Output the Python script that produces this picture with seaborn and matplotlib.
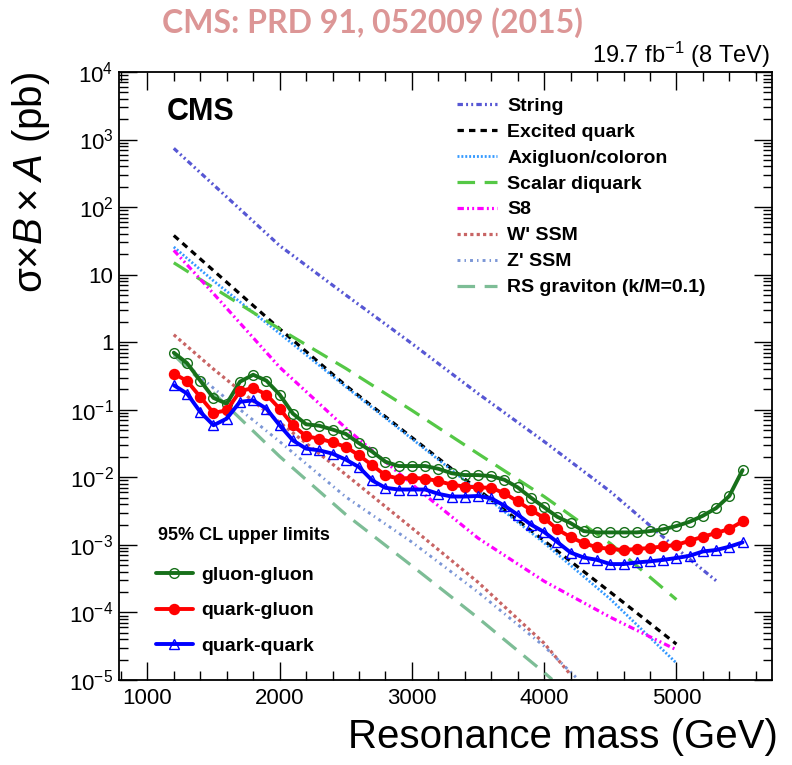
import numpy as np
import pandas as pd
import matplotlib
matplotlib.use("Agg")
import matplotlib.pyplot as plt
import seaborn as sns
from matplotlib.ticker import MultipleLocator, LogLocator, FuncFormatter, NullFormatter
from matplotlib.font_manager import FontProperties

sns.set_style("ticks")
plt.rcParams["font.family"] = ["Liberation Sans", "DejaVu Sans"]
plt.rcParams["mathtext.fontset"] = "custom"
plt.rcParams["mathtext.rm"] = "Liberation Sans"
plt.rcParams["mathtext.it"] = "Liberation Sans:italic"
plt.rcParams["mathtext.bf"] = "Liberation Sans:bold"
plt.rcParams["text.color"] = "black"
plt.rcParams["axes.labelcolor"] = "black"
plt.rcParams["xtick.color"] = "black"
plt.rcParams["ytick.color"] = "black"

# ---------------- data ----------------
# theory cross sections (pb)
string_mass = [1200, 1500, 2000, 2500, 3000, 3500, 4000, 4500, 5000, 5300]
string_xs = [741, 214, 26.9, 5.0, 0.955, 0.174, 0.0339, 0.00617, 0.00089, 0.000295]

qstar_mass = [1200, 1500, 2000, 2500, 3000, 3500, 4000, 4500, 5000]
qstar_xs = [38, 11.5, 1.58, 0.229, 0.0389, 0.0066, 0.00115, 2.0e-4, 3.4e-5]

axi_mass = [1200, 1500, 2000, 2500, 3000, 3500, 4000, 4500, 5000]
axi_xs = [25.7, 8.1, 1.35, 0.219, 0.0372, 0.0063, 0.00107, 1.58e-4, 1.78e-5]

diq_mass = [1200, 1500, 2000, 2500, 3000, 3500, 4000, 4500, 5000]
diq_xs = [15.0, 6.4, 1.57, 0.41, 0.098, 0.0224, 0.0052, 0.00105, 1.55e-4]

s8_mass = [1200, 1500, 2000, 2500, 3000, 3500, 4000, 4500, 5000]
s8_xs = [22.9, 5.25, 0.427, 0.0537, 0.0079, 0.00126, 2.9e-4, 8.5e-5, 2.8e-5]

wp_mass = [1200, 1500, 2000, 2500, 3000, 3500, 4000, 4200]
wp_xs = [1.29, 0.40, 0.065, 0.011, 0.00178, 2.8e-4, 3.5e-5, 1.2e-5]

zp_mass = [1200, 1500, 2000, 2500, 3000, 3500, 4000, 4240]
zp_xs = [0.676, 0.209, 0.0339, 0.00513, 0.0011, 2.0e-4, 3.16e-5, 1.1e-5]

rsg_mass = [1200, 1500, 2000, 2500, 3000, 3500, 4000, 4060]
rsg_xs = [0.646, 0.178, 0.0204, 0.00282, 4.9e-4, 8.3e-5, 1.29e-5, 1.02e-5]

# 95% CL upper limits (pb), masses 1200..5500 GeV in 100 GeV steps
limit_mass = list(range(1200, 5600, 100))
gg_limit = [0.70, 0.49, 0.27, 0.150, 0.123, 0.26, 0.33, 0.27, 0.168, 0.088,
            0.061, 0.058, 0.051, 0.044, 0.032, 0.024, 0.017, 0.0147, 0.0147, 0.0147,
            0.0134, 0.0115, 0.0108, 0.0108, 0.0104, 0.0092, 0.0071, 0.0050, 0.0036, 0.0026,
            0.0021, 0.0016, 0.00153, 0.00153, 0.00153, 0.00153, 0.0016, 0.0017, 0.0019, 0.0022,
            0.0027, 0.0035, 0.0053, 0.0128]
qg_limit = [0.343, 0.267, 0.155, 0.090, 0.098, 0.188, 0.211, 0.168, 0.104, 0.059,
            0.0405, 0.0374, 0.0330, 0.0282, 0.0212, 0.0151, 0.0107, 0.0096, 0.0098, 0.0096,
            0.0088, 0.0078, 0.0073, 0.0071, 0.0070, 0.0058, 0.0044, 0.0033, 0.0025, 0.0017,
            0.0013, 0.00106, 0.00092, 0.00087, 0.00084, 0.00087, 0.00090, 0.00095, 0.0010, 0.00115,
            0.00132, 0.0015, 0.00172, 0.00223]
qq_limit = [0.231, 0.174, 0.093, 0.059, 0.074, 0.131, 0.138, 0.104, 0.059, 0.0353,
            0.0266, 0.0251, 0.0224, 0.0183, 0.0142, 0.0090, 0.0070, 0.0066, 0.0066, 0.0066,
            0.0057, 0.0052, 0.0052, 0.0053, 0.0049, 0.0038, 0.0028, 0.0020, 0.00155, 0.00110,
            0.00077, 0.00065, 0.00060, 0.00052, 0.00052, 0.00055, 0.00057, 0.00060, 0.00064, 0.00069,
            0.00080, 0.00084, 0.00094, 0.00109]

theory_names = ["String", "Excited quark", "Axigluon/coloron", "Scalar diquark",
                "S8", "W' SSM", "Z' SSM", "RS graviton (k/M=0.1)"]
limit_names = ["gluon-gluon", "quark-gluon", "quark-quark"]

# ---------------- figure ----------------
fig = plt.figure(figsize=(7.92, 7.65), dpi=100)
ax = fig.add_axes([0.1503, 0.1111, 0.8245, 0.7948])

theory = [
    (string_mass, string_xs, "#5757d4", (1.7, 1.0, 0.6, 1.0, 0.6, 1.0), 2.3),
    (qstar_mass, qstar_xs, "#000000", (2.0, 1.6), 2.3),
    (axi_mass, axi_xs, "#3399ff", (0.7, 0.7), 2.0),
    (diq_mass, diq_xs, "#55c846", (5.5, 3.0), 2.3),
    (s8_mass, s8_xs, "#ff00ff", (2.0, 1.0, 0.6, 1.0, 0.6, 1.0), 2.3),
    (wp_mass, wp_xs, "#c86464", (1.0, 1.0), 2.3),
    (zp_mass, zp_xs, "#7b96d6", (1.0, 1.4, 0.5, 1.4), 2.1),
    (rsg_mass, rsg_xs, "#7dbd96", (5.5, 3.0), 2.3),
]

theory_handles = []
for m, v, c, d, lw in theory:
    df = pd.DataFrame({"mass": m, "xs": v})
    sns.lineplot(data=df, x="mass", y="xs", ax=ax, color=c, linewidth=lw,
                 linestyle=(0, d), estimator=None, sort=False, legend=False)
    theory_handles.append(ax.lines[-1])

limits = [
    (gg_limit, "#17701a", "o", "none", 7.0),
    (qg_limit, "#ff0000", "o", "#ff0000", 7.2),
    (qq_limit, "#0000ff", "^", "none", 7.5),
]
limit_handles = []
for v, c, mk, fc, ms in limits:
    df = pd.DataFrame({"mass": limit_mass, "xs": v})
    sns.lineplot(data=df, x="mass", y="xs", ax=ax, color=c, linewidth=2.8,
                 marker=mk, markersize=ms, markerfacecolor=fc, markeredgecolor=c,
                 markeredgewidth=1.0, estimator=None, sort=False, legend=False)
    limit_handles.append(ax.lines[-1])

# ---------------- axes ----------------
ax.set_yscale("log")
ax.set_xlim(786, 5723)
ax.set_ylim(1e-5, 1e4)
ax.xaxis.set_major_locator(MultipleLocator(1000))
ax.xaxis.set_minor_locator(MultipleLocator(200))
ax.yaxis.set_major_locator(LogLocator(base=10, numticks=20))
ax.yaxis.set_minor_locator(LogLocator(base=10, subs=np.arange(2, 10), numticks=20))
ax.yaxis.set_minor_formatter(NullFormatter())


def yfmt(val, pos):
    e = int(round(np.log10(val)))
    if e == 0:
        return "1"
    if e == 1:
        return "10"
    return r"$\mathregular{10^{%d}}$" % e


ax.yaxis.set_major_formatter(FuncFormatter(yfmt))
ax.tick_params(which="both", direction="in", top=True, right=True, width=1.0,
               colors="black", labelcolor="black")
ax.tick_params(which="major", length=13, labelsize=16)
ax.tick_params(which="minor", length=6.5)
ax.tick_params(axis="x", pad=6)
ax.tick_params(axis="y", pad=4)
for s in ax.spines.values():
    s.set_linewidth(1.3)
    s.set_color("black")

ax.set_xlabel("Resonance mass (GeV)", fontsize=29, loc="right", color="black")
ax.xaxis.set_label_coords(1.009, -0.062)
ax.set_ylabel(r"σ$\times\mathit{B}\times\mathit{A}$ (pb)", fontsize=29, loc="top", color="black")
ax.yaxis.set_label_coords(-0.103, 1.0)

# ---------------- legends ----------------
leg1 = ax.legend(handles=theory_handles, labels=theory_names, loc="upper left",
                 bbox_to_anchor=(457.3 / 792, 1 - 97 / 765), bbox_transform=fig.transFigure,
                 frameon=False, prop=FontProperties(family="Liberation Sans", weight="bold", size=14),
                 handlelength=2.06, handletextpad=0.5, labelspacing=0.43,
                 borderpad=0, borderaxespad=0, labelcolor="black")
ax.add_artist(leg1)
leg2 = ax.legend(handles=limit_handles, labels=limit_names, loc="upper left",
                 bbox_to_anchor=(155.7 / 792, 1 - 566 / 765), bbox_transform=fig.transFigure,
                 frameon=False, prop=FontProperties(family="Liberation Sans", weight="bold", size=14),
                 handlelength=1.9, handletextpad=0.43, labelspacing=0.93, numpoints=1,
                 borderpad=0, borderaxespad=0, labelcolor="black")

# ---------------- texts ----------------
fig.text(158.3 / 792, 1 - 535 / 765, "95% CL upper limits", fontsize=13, fontweight="bold",
         va="center", ha="left", color="black")
fig.text(167 / 792, 1 - 120 / 765, "CMS", fontsize=22, fontweight="bold", va="baseline",
         ha="left", color="black")
fig.text(0.972, 1 - 63 / 765, r"19.7 fb$^{\mathregular{-1}}$ (8 TeV)", fontsize=17,
         ha="right", va="baseline", color="black")
fig.text(372.5 / 792, 1 - 33 / 765, "CMS: PRD 91, 052009 (2015)", family=["Lato", "DejaVu Sans"],
         fontweight="bold", fontsize=23, color="#dc9696", ha="center", va="baseline")

fig.savefig("out.png", dpi=100)
